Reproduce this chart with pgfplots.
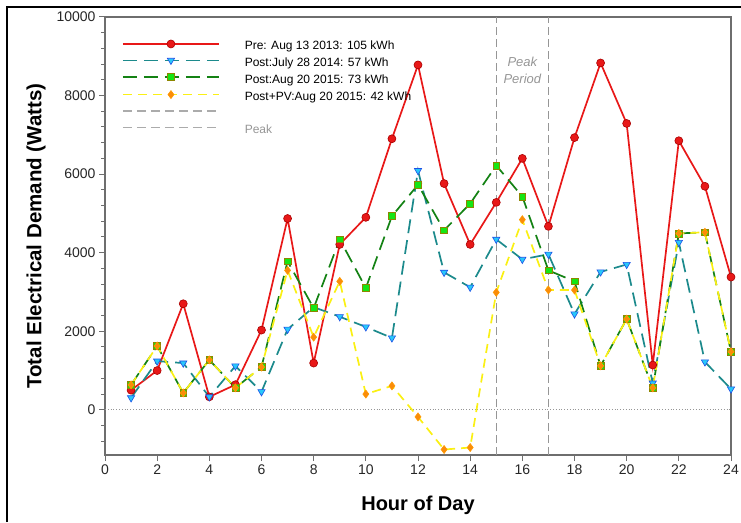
\documentclass[border=0pt]{standalone}
\usepackage{fontspec}
\setmainfont{Liberation Sans}
\usepackage{pgfplots}
\pgfplotsset{compat=1.18}
\definecolor{cred}{RGB}{232,24,24}
\definecolor{cdred}{RGB}{170,0,0}
\definecolor{cteal}{RGB}{28,138,140}
\definecolor{ccyan}{RGB}{40,200,250}
\definecolor{cblue}{RGB}{30,80,230}
\definecolor{cgreen}{RGB}{20,130,20}
\definecolor{clime}{RGB}{20,230,20}
\definecolor{cyel}{RGB}{250,240,20}
\definecolor{corange}{RGB}{250,140,10}
\definecolor{cgray}{RGB}{150,150,150}
\definecolor{caxis}{RGB}{110,110,110}
\begin{document}
\begin{tikzpicture}
\path[use as bounding box] (0pt,0pt) rectangle (741pt,522pt);
\draw[black, line width=1.6pt] (7pt,0pt) -- (7pt,515pt) -- (741pt,515pt);
\begin{axis}[
  at={(105pt,67pt)}, anchor=south west,
  scale only axis, width=626pt, height=438pt,
  xmin=0, xmax=24, ymin=-1150, ymax=10000,
  xtick={0,2,...,24}, ytick={0,2000,...,10000},
  minor ytick={-800,-400,...,9600},
  xtick pos=lower, ytick pos=left,
  tick align=outside,
  major tick length=6pt, minor tick length=4pt,
  axis line style={caxis, line width=1.2pt},
  every tick/.style={caxis, line width=1pt},
  every minor tick/.style={caxis, line width=1pt},
  tick label style={font=\fontsize{14}{16}\selectfont, text=black!85},
  /pgf/number format/assume math mode=true,
  scaled ticks=false,
  /pgf/number format/1000 sep={},
  xlabel={\textbf{Hour of Day}},
  ylabel={\textbf{Total Electrical Demand (Watts)}},
  xlabel style={font=\fontsize{20}{22}\selectfont, yshift=-15pt},
  ylabel style={font=\fontsize{20.5}{22}\selectfont, yshift=4pt},
  clip=false,
  legend style={draw=none, fill=none, at={(0.027,0.948)}, anchor=north west,
     font=\fontsize{12}{14}\selectfont, row sep=4.4pt, inner sep=0pt,
     nodes={inner sep=0pt, text height=9pt, text depth=3pt},
     /tikz/every odd column/.append style={column sep=25pt}},
  legend cell align=left,
  legend image code/.code={
     \draw[mark repeat=2,mark phase=2,#1] plot coordinates {(0pt,3pt) (48pt,3pt) (96pt,3pt)};
  },
]
% zero line
\addplot[cgray, dotted, line width=0.8pt, forget plot] coordinates {(0,0) (24,0)};
% peak lines
\addplot[cgray, line width=1.2pt, dash pattern=on 8pt off 4pt, forget plot] coordinates {(15,-1150) (15,10000)};
\addplot[cgray, line width=1.2pt, dash pattern=on 8pt off 4pt, forget plot] coordinates {(17,-1150) (17,10000)};
\node[font=\fontsize{13}{15}\selectfont\itshape, text=cgray, align=center] at (axis cs:16,8650) {Peak\\[2pt]Period};

\addplot[cred, line width=1.7pt, mark=*, mark size=4pt, mark options={solid, fill=cred, draw=cdred, line width=0.6pt}]
 coordinates {(1,500) (2,1000) (3,2700) (4,330) (5,640) (6,2030) (7,4870) (8,1190) (9,4210) (10,4900) (11,6900) (12,8780) (13,5760) (14,4210) (15,5280) (16,6400) (17,4670) (18,6930) (19,8830) (20,7290) (21,1140) (22,6850) (23,5690) (24,3380)};
\addlegendentry{Pre: Aug 13 2013: 105 kWh}

\addplot[cteal, line width=1.7pt, dash pattern=on 14pt off 7pt, mark=triangle*, mark size=4.2pt, mark options={solid, rotate=180, fill=ccyan, draw=cblue, line width=0.6pt}]
 coordinates {(1,305) (2,1240) (3,1190) (4,330) (5,1115) (6,460) (7,2050) (8,2615) (9,2370) (10,2110) (11,1830) (12,6090) (13,3500) (14,3120) (15,4340) (16,3830) (17,3960) (18,2440) (19,3510) (20,3700) (21,680) (22,4260) (23,1220) (24,530)};
\addlegendentry{Post:July  28 2014: 57 kWh}

\addplot[cgreen, line width=1.7pt, dash pattern=on 14pt off 7pt, mark=square*, mark size=3.4pt, mark options={solid, fill=clime, draw=olive, line width=0.6pt}]
 coordinates {(1,635) (2,1625) (3,430) (4,1270) (5,560) (6,1090) (7,3780) (8,2590) (9,4340) (10,3100) (11,4930) (12,5730) (13,4570) (14,5250) (15,6220) (16,5430) (17,3550) (18,3270) (19,1120) (20,2310) (21,560) (22,4490) (23,4520) (24,1480)};
\addlegendentry{Post:Aug 20 2015: 73 kWh}

\addplot[cyel, line width=1.7pt, dash pattern=on 9pt off 6pt, mark=diamond*, mark size=4pt, mark options={solid, fill=corange, draw=orange!80!yellow, line width=0.6pt}]
 coordinates {(1,635) (2,1625) (3,430) (4,1270) (5,560) (6,1090) (7,3550) (8,1850) (9,3270) (10,400) (11,610) (12,-180) (13,-1010) (14,-960) (15,2990) (16,4840) (17,3050) (18,3050) (19,1120) (20,2310) (21,560) (22,4490) (23,4520) (24,1480)};
\addlegendentry{Post+PV:Aug 20 2015: 42 kWh}

\addlegendimage{cgray!80, line width=1.2pt, dash pattern=on 9pt off 5pt}
\addlegendentry{}
\addlegendimage{cgray!80, line width=1.2pt, dash pattern=on 9pt off 5pt}
\addlegendentry{\textcolor{cgray}{Peak}}
\end{axis}
\end{tikzpicture}
\end{document}
